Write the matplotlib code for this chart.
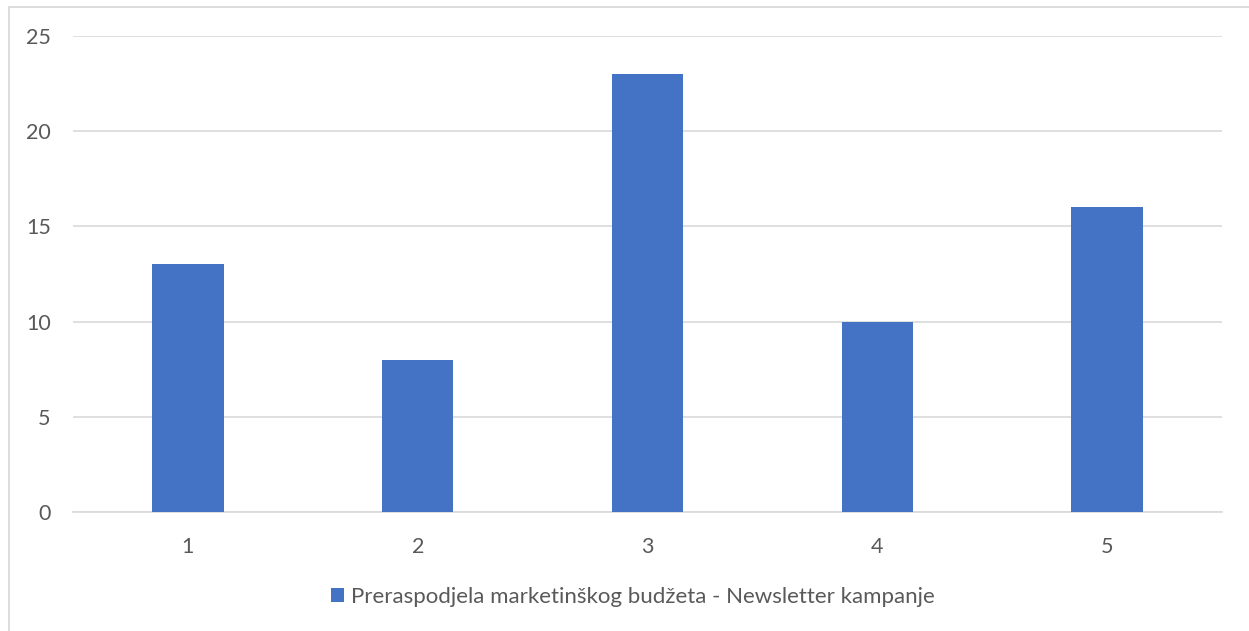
import matplotlib
matplotlib.use('Agg')
import matplotlib.pyplot as plt
from matplotlib.patches import Rectangle

# Datos del gráfico
kategorije = ['1', '2', '3', '4', '5']
vrijednosti = [13, 8, 23, 10, 16]
naziv_serije = 'Preraspodjela marketinškog budžeta - Newsletter kampanje'
y_oznake = [0, 5, 10, 15, 20, 25]

plt.rcParams['font.family'] = ['Lato', 'DejaVu Sans']

fig = plt.figure(figsize=(12.49, 6.31), dpi=100)
ax = fig.add_axes([73 / 1249, 1 - 512 / 631, (1222 - 73) / 1249, (512 - 36) / 631])

# Okvir grafikona (odrezan desno i dolje)
fig.patches.append(Rectangle((8.5 / 1249, -0.1), 1.2, 1 - 6.5 / 631 + 0.1,
                             transform=fig.transFigure, fill=False,
                             edgecolor='#D9D9D9', linewidth=1.3))

pozicije = range(len(kategorije))
ax.bar(pozicije, vrijednosti, width=0.31, color='#4472C4', label=naziv_serije, zorder=3)

ax.set_xlim(-0.5, len(kategorije) - 0.5)
ax.set_ylim(0, 25)
ax.set_yticks(y_oznake)
ax.set_xticks(list(pozicije))
ax.set_xticklabels(kategorije)

ax.grid(axis='y', color='#D9D9D9', linewidth=1.2, zorder=0)
for s in ['top', 'right', 'left']:
    ax.spines[s].set_visible(False)
ax.spines['bottom'].set_color('#D9D9D9')
ax.spines['bottom'].set_linewidth(1.2)

ax.tick_params(axis='both', length=0, labelsize=15.5, colors='#595959')
ax.tick_params(axis='y', pad=16)
ax.tick_params(axis='x', pad=18)

leg = fig.legend(loc='center', bbox_to_anchor=(633 / 1249, 1 - 597 / 631),
                 frameon=False, fontsize=16, handlelength=0.6, handleheight=0.6,
                 handletextpad=0.3)
for t in leg.get_texts():
    t.set_color('#595959')

plt.savefig('out.png', dpi=100)
